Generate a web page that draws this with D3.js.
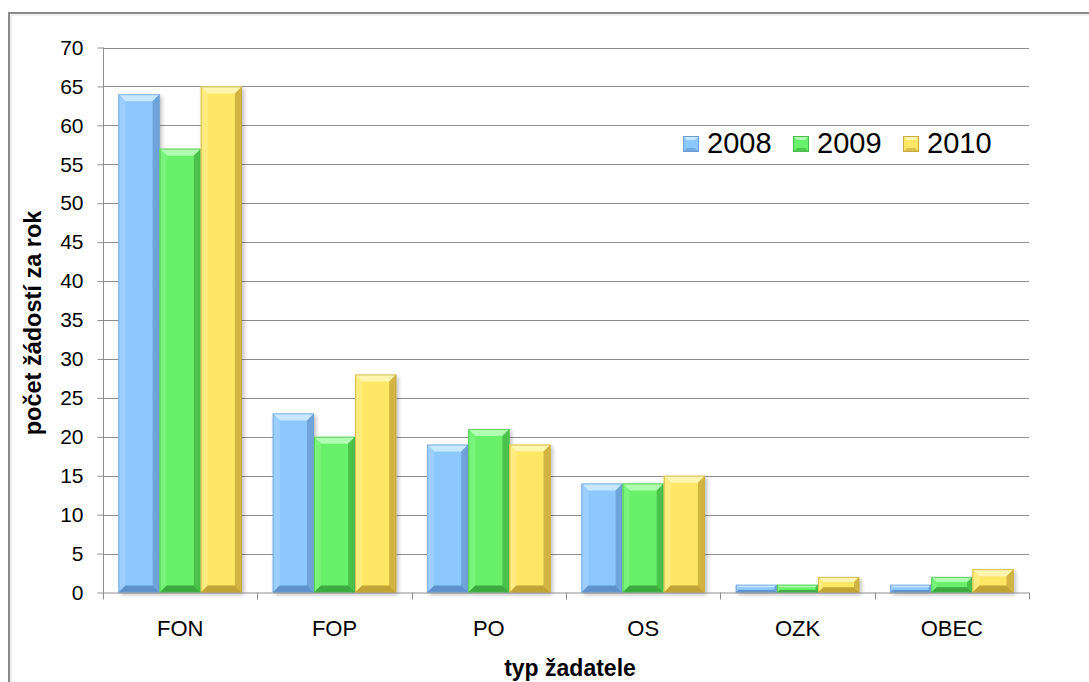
<!DOCTYPE html>
<html>
<head>
<meta charset="utf-8">
<script src="https://cdn.jsdelivr.net/npm/d3@7"></script>
<style>
  html, body { margin: 0; padding: 0; background: #fff; }
  svg { display: block; font-family: Arial, "Liberation Sans", sans-serif; }
</style>
</head>
<body>
<svg id="chart" width="1089" height="682"></svg>
<script>
// Žádosti podle typu žadatele, roky 2008–2010
const categories = ["FON", "FOP", "PO", "OS", "OZK", "OBEC"];
const years = ["2008", "2009", "2010"];
const values2008 = [64, 23, 19, 14, 1, 1];
const values2009 = [57, 20, 21, 14, 1, 2];
const values2010 = [65, 28, 19, 15, 2, 3];
const yTicks = [0, 5, 10, 15, 20, 25, 30, 35, 40, 45, 50, 55, 60, 65, 70];

const seriesValues = [values2008, values2009, values2010];

// face / light / dark tones for the bevelled bars
const palette = {
  "2008": { face: "#8cc8fc", top: "#c8e8ff", left: "#9ccfff", right: "#6fa3da", bottom: "#5f92cc", edge: "#6d9fd4" },
  "2009": { face: "#68f06a", top: "#b0ffb0", left: "#78f47a", right: "#4ac24c", bottom: "#3daa3f", edge: "#4cbc4c" },
  "2010": { face: "#ffe766", top: "#fff5b0", left: "#ffec80", right: "#d1b442", bottom: "#c1a434", edge: "#c6ab40" }
};

const svg = d3.select("#chart");

const plot = { left: 103, right: 1029, top: 47.5, bottom: 592.5 };

const x0 = d3.scaleBand()
  .domain(categories)
  .range([plot.left, plot.right])
  .paddingInner(0.2)
  .paddingOuter(0.1);
const x1 = d3.scaleBand()
  .domain(years)
  .range([0, x0.bandwidth()]);
const y = d3.scaleLinear()
  .domain([0, 70])
  .range([plot.bottom, plot.top]);

const defs = svg.append("defs");
defs.append("filter").attr("id", "shadow")
  .attr("x", "-20%").attr("y", "-20%").attr("width", "160%").attr("height", "160%")
  .append("feGaussianBlur").attr("stdDeviation", 2);

// outer frame
svg.append("path")
  .attr("d", `M9,682 V13 H1089`)
  .attr("fill", "none")
  .attr("stroke", "#8a8a8a")
  .attr("stroke-width", 2);
svg.append("path")
  .attr("d", `M11,682 V15 H1089`)
  .attr("fill", "none")
  .attr("stroke", "#dcdcdc")
  .attr("stroke-width", 1);

// horizontal gridlines
svg.append("g")
  .selectAll("line")
  .data(yTicks.filter(d => d > 0))
  .join("line")
  .attr("x1", plot.left)
  .attr("x2", plot.right)
  .attr("y1", d => Math.round(y(d)) + 0.5)
  .attr("y2", d => Math.round(y(d)) + 0.5)
  .attr("stroke", "#8e8e8e")
  .attr("stroke-width", 1);

// y axis
const yAxis = d3.axisLeft(y)
  .tickValues(yTicks)
  .tickSize(6)
  .tickPadding(14)
  .tickFormat(d3.format("d"));
const gy = svg.append("g")
  .attr("transform", `translate(${plot.left + 0.5},0)`)
  .call(yAxis);
gy.select(".domain").attr("stroke", "#8e8e8e").attr("d", `M0,${plot.top}V${plot.bottom}`);
gy.selectAll(".tick line").attr("stroke", "#8e8e8e");
gy.selectAll(".tick text")
  .attr("font-size", 21)
  .attr("font-family", "Arial, 'Liberation Sans', sans-serif")
  .attr("fill", "#000");

// bars
function bevelBar(g, x, yTop, w, h, c) {
  const b = Math.max(1.5, Math.min(7, h / 3, w / 4));
  const x2 = x + w, y2 = yTop + h;
  g.append("rect")
    .attr("x", x + 2).attr("y", yTop + 2).attr("width", w).attr("height", h)
    .attr("fill", "#000").attr("opacity", 0.28).attr("filter", "url(#shadow)");
  g.append("rect")
    .attr("x", x).attr("y", yTop).attr("width", w).attr("height", h)
    .attr("fill", c.face);
  g.append("polygon")
    .attr("points", [[x, yTop], [x2, yTop], [x2 - b, yTop + b], [x + b, yTop + b]].join(" "))
    .attr("fill", c.top);
  g.append("polygon")
    .attr("points", [[x, yTop], [x + b, yTop + b], [x + b, y2 - b], [x, y2]].join(" "))
    .attr("fill", c.left);
  g.append("polygon")
    .attr("points", [[x2, yTop], [x2, y2], [x2 - b, y2 - b], [x2 - b, yTop + b]].join(" "))
    .attr("fill", c.right);
  g.append("polygon")
    .attr("points", [[x, y2], [x + b, y2 - b], [x2 - b, y2 - b], [x2, y2]].join(" "))
    .attr("fill", c.bottom);
  g.append("rect")
    .attr("x", x + 0.5).attr("y", yTop + 0.5).attr("width", w - 1).attr("height", Math.max(0, h - 1))
    .attr("fill", "none").attr("stroke", c.edge).attr("stroke-width", 1).attr("opacity", 0.7);
}

const barsG = svg.append("g");
categories.forEach((cat, i) => {
  years.forEach((yr, s) => {
    const v = seriesValues[s][i];
    const bx = x0(cat) + x1(yr);
    const by = y(v);
    bevelBar(barsG, bx, by, x1.bandwidth(), y(0) - by, palette[yr]);
  });
});

// x axis with ticks at category boundaries
const step = x0.step();
const boundaries = d3.range(categories.length + 1).map(i => plot.left + i * step);
const gx = svg.append("g");
gx.append("line")
  .attr("x1", plot.left).attr("x2", plot.right)
  .attr("y1", plot.bottom + 0.5).attr("y2", plot.bottom + 0.5)
  .attr("stroke", "#8e8e8e");
gx.selectAll("line.tick")
  .data(boundaries)
  .join("line")
  .attr("class", "tick")
  .attr("x1", d => Math.round(d) + 0.5).attr("x2", d => Math.round(d) + 0.5)
  .attr("y1", plot.bottom).attr("y2", plot.bottom + 7)
  .attr("stroke", "#8e8e8e");
gx.selectAll("text")
  .data(categories)
  .join("text")
  .attr("x", d => x0(d) + x0.bandwidth() / 2)
  .attr("y", 636)
  .attr("text-anchor", "middle")
  .attr("font-size", 22)
  .attr("fill", "#000")
  .text(d => d);

// axis titles
svg.append("text")
  .attr("x", (plot.left + plot.right) / 2 + 4)
  .attr("y", 676)
  .attr("text-anchor", "middle")
  .attr("font-size", 23)
  .attr("font-weight", "bold")
  .text("typ žadatele");

svg.append("text")
  .attr("transform", `translate(41,${(plot.top + plot.bottom) / 2 + 3}) rotate(-90)`)
  .attr("text-anchor", "middle")
  .attr("font-size", 23.5)
  .attr("font-weight", "bold")
  .text("počet žádostí za rok");

// legend
const legend = svg.append("g").attr("transform", "translate(683,136)");
years.forEach((yr, i) => {
  const item = legend.append("g").attr("transform", `translate(${i * 110},0)`);
  const c = palette[yr];
  const s = 16, b = 4;
  item.append("rect").attr("width", s).attr("height", s).attr("fill", c.face);
  item.append("polygon").attr("points", [[0, 0], [s, 0], [s / 2, s / 2]].join(" ")).attr("fill", c.top);
  item.append("polygon").attr("points", [[0, s], [s, s], [s / 2, s / 2]].join(" ")).attr("fill", c.bottom).attr("opacity", 0.6);
  item.append("rect").attr("x", b).attr("y", b).attr("width", s - 2 * b).attr("height", s - 2 * b).attr("fill", c.face);
  item.append("rect").attr("x", 0.5).attr("y", 0.5).attr("width", s - 1).attr("height", s - 1)
    .attr("fill", "none").attr("stroke", c.edge);
  item.append("text")
    .attr("x", 24)
    .attr("y", 17)
    .attr("font-size", 29)
    .attr("fill", "#000")
    .text(yr);
});
</script>
</body>
</html>
